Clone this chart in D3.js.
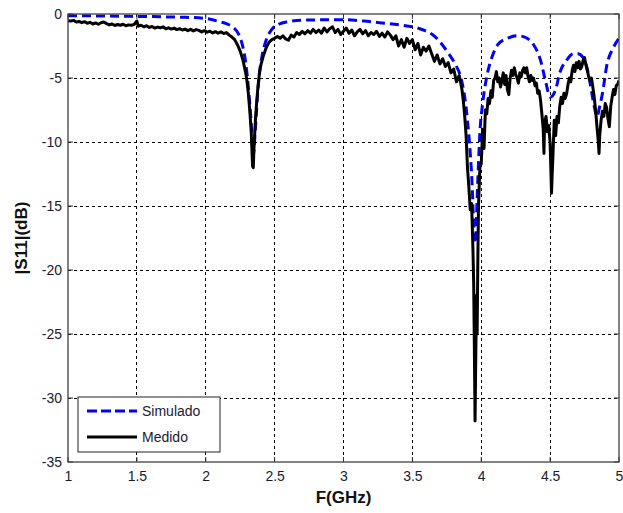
<!DOCTYPE html>
<html><head><meta charset="utf-8">
<script src="https://cdn.jsdelivr.net/npm/d3@7/dist/d3.min.js"></script>
<style>
html,body{margin:0;padding:0;background:#fff;}
svg{display:block;font-family:"Liberation Sans",Arial,sans-serif;}
</style></head>
<body><svg id="c" width="623" height="513"></svg>
<script>
const xTicks = [1, 1.5, 2, 2.5, 3, 3.5, 4, 4.5, 5];
const yTicks = [0, -5, -10, -15, -20, -25, -30, -35];
const seriesNames = ["Simulado", "Medido"];

const freqSim = [1.0,1.2,1.4,1.6,1.8,1.95,2.05,2.1,2.15,2.2,2.24,2.27,2.29,2.31,2.33,2.345,2.36,2.375,2.39,2.41,2.44,2.48,2.53,2.6,2.73,3.0,3.15,3.26,3.41,3.5,3.58,3.65,3.71,3.76,3.81,3.85,3.88,3.9,3.93,3.955,3.975,3.99,4.01,4.04,4.08,4.12,4.19,4.26,4.3,4.38,4.43,4.47,4.5,4.54,4.57,4.62,4.67,4.7,4.74,4.77,4.79,4.82,4.84,4.86,4.88,4.91,4.96,5.0];
const s11Sim = [-0.13,-0.15,-0.18,-0.2,-0.25,-0.3,-0.45,-0.6,-0.75,-1.05,-1.6,-2.6,-3.8,-5.8,-8.5,-11.0,-9.0,-6.5,-4.6,-3.2,-2.0,-1.2,-0.8,-0.6,-0.47,-0.45,-0.55,-0.68,-0.86,-1.0,-1.25,-1.64,-2.3,-3.05,-3.9,-4.9,-6.5,-8.3,-12.5,-17.9,-13.0,-9.3,-7.0,-4.9,-3.3,-2.4,-1.9,-1.7,-1.75,-2.4,-3.6,-5.4,-6.5,-5.9,-4.6,-3.6,-3.1,-3.1,-3.4,-4.3,-5.4,-7.2,-8.0,-7.2,-6.2,-4.1,-2.6,-1.9];

const freqMeas = [1.00,1.02,1.04,1.06,1.08,1.10,1.12,1.14,1.16,1.18,1.20,1.22,1.24,1.26,1.28,1.30,1.32,1.34,1.36,1.38,1.40,1.42,1.44,1.46,1.48,1.50,1.51,1.53,1.55,1.57,1.59,1.61,1.63,1.65,1.67,1.69,1.71,1.73,1.75,1.77,1.79,1.81,1.83,1.85,1.87,1.89,1.91,1.93,1.95,1.97,1.99,2.01,2.03,2.05,2.07,2.09,2.11,2.13,2.15,2.17,2.19,2.21,2.23,2.25,2.27,2.29,2.30,2.31,2.32,2.33,2.34,2.345,2.35,2.36,2.37,2.38,2.39,2.40,2.42,2.44,2.46,2.48,2.50,2.52,2.54,2.56,2.58,2.60,2.62,2.64,2.66,2.68,2.70,2.72,2.74,2.76,2.78,2.80,2.82,2.84,2.86,2.88,2.90,2.92,2.94,2.96,2.98,3.00,3.02,3.04,3.06,3.08,3.10,3.12,3.14,3.16,3.18,3.20,3.22,3.24,3.26,3.28,3.30,3.32,3.34,3.36,3.38,3.40,3.42,3.44,3.46,3.48,3.50,3.52,3.54,3.56,3.58,3.60,3.62,3.64,3.66,3.68,3.70,3.72,3.74,3.76,3.78,3.80,3.82,3.84,3.86,3.87,3.88,3.89,3.90,3.91,3.92,3.93,3.94,3.945,3.95,3.955,3.96,3.965,3.97,3.975,3.98,3.99,4.00,4.01,4.02,4.03,4.04,4.05,4.06,4.07,4.08,4.09,4.10,4.11,4.12,4.13,4.14,4.15,4.16,4.17,4.18,4.19,4.20,4.21,4.22,4.23,4.24,4.25,4.26,4.27,4.28,4.29,4.30,4.31,4.32,4.33,4.34,4.35,4.36,4.37,4.38,4.39,4.40,4.41,4.42,4.43,4.44,4.45,4.455,4.46,4.47,4.48,4.49,4.50,4.505,4.51,4.515,4.52,4.53,4.54,4.55,4.56,4.57,4.58,4.59,4.60,4.61,4.62,4.63,4.64,4.65,4.66,4.67,4.68,4.69,4.70,4.71,4.72,4.73,4.74,4.75,4.76,4.77,4.78,4.79,4.80,4.81,4.82,4.83,4.84,4.85,4.855,4.86,4.87,4.88,4.89,4.90,4.91,4.92,4.93,4.94,4.95,4.96,4.97,4.98,4.99,5.00];
const s11Meas = [-0.52,-0.55,-0.50,-0.62,-0.58,-0.68,-0.60,-0.72,-0.65,-0.78,-0.70,-0.80,-0.68,-0.62,-0.75,-0.85,-0.78,-0.90,-0.82,-0.88,-0.80,-0.92,-0.85,-0.88,-0.82,-0.55,-0.95,-0.88,-1.00,-0.92,-1.05,-0.98,-1.10,-1.02,-1.08,-1.00,-1.15,-1.08,-1.18,-1.10,-1.22,-1.15,-1.25,-1.18,-1.30,-1.20,-1.32,-1.22,-1.28,-1.40,-1.30,-1.42,-1.35,-1.48,-1.38,-1.50,-1.40,-1.52,-1.45,-1.65,-1.80,-2.0,-2.4,-2.9,-3.6,-4.6,-5.3,-6.3,-7.6,-9.2,-11.9,-12.0,-10.5,-8.4,-6.8,-5.6,-4.6,-4.0,-3.2,-2.6,-2.2,-2.0,-1.9,-1.75,-1.9,-1.7,-1.95,-2.05,-1.65,-1.8,-1.45,-1.6,-1.35,-1.55,-1.3,-1.5,-1.2,-1.45,-1.25,-1.5,-1.1,-1.4,-1.15,-1.0,-1.45,-1.2,-1.6,-1.35,-1.1,-1.5,-1.25,-1.7,-1.4,-1.2,-1.55,-1.3,-1.7,-1.45,-1.6,-1.35,-1.75,-1.5,-1.8,-1.4,-1.65,-2.0,-1.7,-2.5,-2.0,-2.6,-1.9,-2.3,-2.0,-2.8,-2.3,-3.2,-2.6,-2.9,-2.5,-3.1,-3.7,-3.2,-3.9,-3.5,-4.1,-3.8,-4.6,-4.3,-5.3,-4.8,-5.9,-6.8,-8.0,-9.5,-12.0,-13.5,-15.3,-14.8,-18.5,-21,-26,-31.8,-27,-22,-25,-19.5,-15,-12.0,-11.7,-9.0,-10.5,-7.5,-7.8,-6.6,-7.0,-6.0,-6.5,-5.2,-5.0,-4.5,-5.3,-5.0,-5.7,-5.2,-4.6,-5.5,-4.8,-5.9,-6.3,-5.0,-4.4,-4.8,-4.2,-4.7,-5.0,-5.4,-4.6,-4.9,-4.4,-4.2,-4.6,-4.2,-4.9,-5.3,-4.8,-5.2,-5.0,-5.6,-5.4,-6.2,-6.0,-6.7,-7.8,-9.0,-10.9,-8.5,-8.0,-9.2,-8.7,-10.1,-12.0,-14.0,-12.5,-11.2,-8.3,-9.5,-8.0,-8.5,-7.2,-6.5,-7.0,-6.2,-6.6,-6.2,-5.5,-5.0,-5.3,-4.4,-4.0,-4.5,-3.8,-4.2,-3.7,-4.3,-4.1,-3.6,-3.4,-4.0,-4.4,-4.9,-5.2,-5.0,-5.7,-6.5,-7.5,-8.8,-10.0,-10.9,-9.5,-8.3,-7.6,-8.0,-7.0,-7.3,-8.2,-8.8,-7.2,-6.5,-5.9,-6.3,-5.6,-5.5,-5.2];

const svg = d3.select("#c");
const m = {l: 68, r: 4, t: 14, b: 51};
const W = 623, H = 513;
const x = d3.scaleLinear().domain([1, 5]).range([m.l, W - m.r]);
const y = d3.scaleLinear().domain([-35, 0]).range([H - m.b, m.t]);

// grid
const g = svg.append("g");
g.selectAll(".vg").data(xTicks.slice(1, -1)).enter().append("line")
  .attr("x1", d => x(d)).attr("x2", d => x(d)).attr("y1", y(0)).attr("y2", y(-35))
  .attr("stroke", "#000").attr("stroke-width", 1).attr("stroke-dasharray", "3,3").attr("shape-rendering","crispEdges");
g.selectAll(".hg").data(yTicks.slice(1, -1)).enter().append("line")
  .attr("y1", d => y(d)).attr("y2", d => y(d)).attr("x1", x(1)).attr("x2", x(5))
  .attr("stroke", "#000").attr("stroke-width", 1).attr("stroke-dasharray", "3,3").attr("shape-rendering","crispEdges");

// axes
const fmt = d => String(d);
const xa = svg.append("g").attr("transform", `translate(0,${y(-35)})`)
  .call(d3.axisBottom(x).tickValues(xTicks).tickSize(0).tickPadding(9).tickFormat(fmt));
const ya = svg.append("g").attr("transform", `translate(${x(1)},0)`)
  .call(d3.axisLeft(y).tickValues(yTicks).tickSize(0).tickPadding(6).tickFormat(fmt));
[xa, ya].forEach(a => {
  a.select(".domain").remove();
  a.selectAll("text").attr("font-size", 14).attr("fill", "#1a1a2e").attr("font-family", "'Liberation Sans',Arial,sans-serif");
});

// inner ticks
const tl = 5;
svg.append("g").selectAll("line").data(xTicks).enter().append("line")
  .attr("x1", d => x(d)).attr("x2", d => x(d)).attr("y1", y(-35)).attr("y2", y(-35) - tl)
  .attr("stroke", "#333");
svg.append("g").selectAll("line").data(xTicks).enter().append("line")
  .attr("x1", d => x(d)).attr("x2", d => x(d)).attr("y1", y(0)).attr("y2", y(0) + tl)
  .attr("stroke", "#333");
svg.append("g").selectAll("line").data(yTicks).enter().append("line")
  .attr("y1", d => y(d)).attr("y2", d => y(d)).attr("x1", x(1)).attr("x2", x(1) + tl)
  .attr("stroke", "#333");
svg.append("g").selectAll("line").data(yTicks).enter().append("line")
  .attr("y1", d => y(d)).attr("y2", d => y(d)).attr("x1", x(5)).attr("x2", x(5) - tl)
  .attr("stroke", "#333");

// lines
svg.append("clipPath").attr("id", "clp").append("rect")
  .attr("x", x(1)).attr("y", y(0) - 2).attr("width", x(5) - x(1)).attr("height", y(-35) - y(0) + 2);

const simData = freqSim.map((f, i) => [f, s11Sim[i]]);
const measData = freqMeas.map((f, i) => [f, s11Meas[i]]);

svg.append("path").datum(simData).attr("clip-path", "url(#clp)")
  .attr("d", d3.line().x(d => x(d[0])).y(d => y(d[1])).curve(d3.curveMonotoneX))
  .attr("fill", "none").attr("stroke", "#0000ff").attr("stroke-width", 3).attr("stroke-dasharray", "9,5");

svg.append("path").datum(measData).attr("clip-path", "url(#clp)")
  .attr("d", d3.line().x(d => x(d[0])).y(d => y(d[1])))
  .attr("fill", "none").attr("stroke", "#000").attr("stroke-width", 3).attr("stroke-linejoin", "round");

// box
svg.append("rect").attr("x", x(1)).attr("y", y(0)).attr("width", x(5) - x(1)).attr("height", y(-35) - y(0))
  .attr("fill", "none").attr("stroke", "#404040").attr("stroke-width", 1.3);

// legend
const lg = svg.append("g");
lg.append("rect").attr("x", 78).attr("y", 397).attr("width", 142).attr("height", 55)
  .attr("fill", "#fff").attr("stroke", "#222").attr("stroke-width", 1);
const styles = [{c: "#0000ff", d: "10,4"}, {c: "#000", d: null}];
seriesNames.forEach((n, i) => {
  const yy = 411 + i * 26;
  const ln = lg.append("line").attr("x1", 87).attr("x2", 137).attr("y1", yy).attr("y2", yy)
    .attr("stroke", styles[i].c).attr("stroke-width", 3);
  if (styles[i].d) ln.attr("stroke-dasharray", styles[i].d);
  lg.append("text").attr("x", 142).attr("y", yy + 5).text(n)
    .attr("font-size", 14).attr("fill", "#1a1a2e");
});

// axis titles
svg.append("text").attr("x", (x(1) + x(5)) / 2).attr("y", 503).attr("text-anchor", "middle")
  .attr("font-size", 17).attr("font-weight", "bold").attr("fill", "#111").text("F(GHz)");
svg.append("text").attr("transform", `translate(27,${(y(0) + y(-35)) / 2}) rotate(-90)`)
  .attr("text-anchor", "middle").attr("font-size", 17).attr("font-weight", "bold").attr("fill", "#111").text("|S11|(dB)");
</script></body></html>
